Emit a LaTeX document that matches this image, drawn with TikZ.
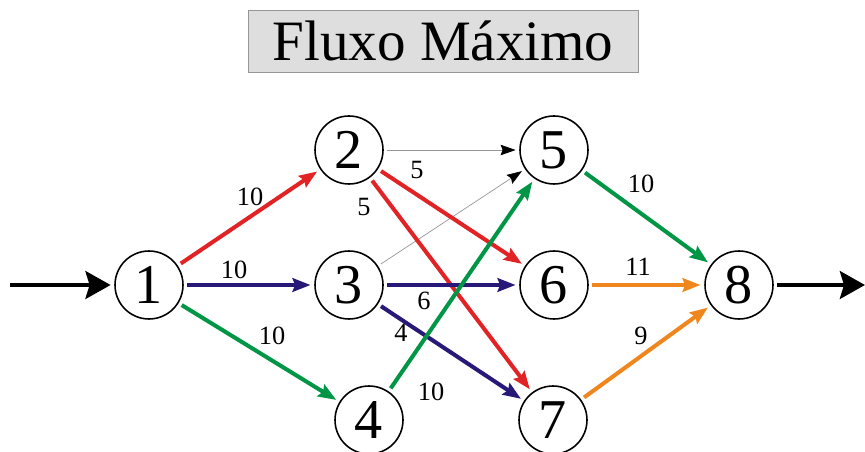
\documentclass[tikz,border=0pt]{standalone}
\usepackage{fontspec}
\setmainfont{Liberation Serif}
\usepackage{tikz}
\usetikzlibrary{arrows.meta}

\definecolor{fred}{RGB}{226,35,38}
\definecolor{fblue}{RGB}{40,25,120}
\definecolor{fgreen}{RGB}{0,150,70}
\definecolor{forange}{RGB}{240,135,30}
\definecolor{fthin}{RGB}{150,150,150}

\begin{document}
\begin{tikzpicture}[x=0.02cm,y=-0.02cm,
  vert/.style={circle,draw,line width=0.9pt,minimum size=1.36cm,inner sep=0pt,
    outer sep=2.5pt,font=\fontsize{32}{32}\selectfont},
  capnum/.style={font=\fontsize{15}{15}\selectfont,inner sep=0pt},
  flow/.style={line width=2.3pt,-{Stealth[length=0.36cm,width=0.27cm,inset=0.05cm]}},
  faint/.style={line width=0.4pt,draw=fthin,
    -{Stealth[length=0.3cm,width=0.21cm,inset=0.04cm,color=black]}},
  bigarrow/.style={line width=2.8pt,-{Stealth[length=0.5cm,width=0.55cm,inset=0.08cm]}}]
 \useasboundingbox (0,0) rectangle (865,452);
 % title
 \node[draw=fthin,fill=black!13,minimum width=7.8cm,minimum height=1.24cm,
   font=\fontsize{32.5}{32.5}\selectfont] (title) at (443,41) {Fluxo Máximo};
 % vertices
 \node[vert] (n1) at (149,285) {1};
 \node[vert] (n2) at (349,150) {2};
 \node[vert] (n3) at (349,285) {3};
 \node[vert] (n4) at (369,420) {4};
 \node[vert] (n5) at (554,150) {5};
 \node[vert] (n6) at (554,285) {6};
 \node[vert] (n7) at (553,420) {7};
 \node[vert] (n8) at (739,285) {8};
 \coordinate (in) at (10,285);
 \coordinate (out) at (865,285);
 % source and sink
 \draw[bigarrow] (in) -- (n1);
 \draw[bigarrow] (n8) -- (out);
 % edges
 \draw[faint] (n2) -- (n5);
 \draw[faint] (n3) -- (n5);
 \draw[flow,fred] (n1) -- (n2);
 \draw[flow,fblue] (n1) -- (n3);
 \draw[flow,fgreen] (n1) -- (n4);
 \draw[flow,fred] (n2) -- (n6);
 \draw[flow,fred] (n2) -- (n7);
 \draw[flow,fblue] (n3) -- (n6);
 \draw[flow,fblue] (n3) -- (n7);
 \draw[flow,fgreen] (n4) -- (n5);
 \draw[flow,fgreen] (n5) -- (n8);
 \draw[flow,forange] (n6) -- (n8);
 \draw[flow,forange] (n7) -- (n8);
 % capacities
 \node[capnum] (c12) at (250,197) {10};
 \node[capnum] (c13) at (234,270) {10};
 \node[capnum] (c14) at (272,336) {10};
 \node[capnum] (c26) at (417,170) {5};
 \node[capnum] (c27) at (364,207) {5};
 \node[capnum] (c36) at (424,301) {6};
 \node[capnum] (c37) at (401,333) {4};
 \node[capnum] (c45) at (431,392) {10};
 \node[capnum] (c58) at (641,184) {10};
 \node[capnum] (c68) at (638,267) {11};
 \node[capnum] (c78) at (641,336) {9};
\end{tikzpicture}
\end{document}
